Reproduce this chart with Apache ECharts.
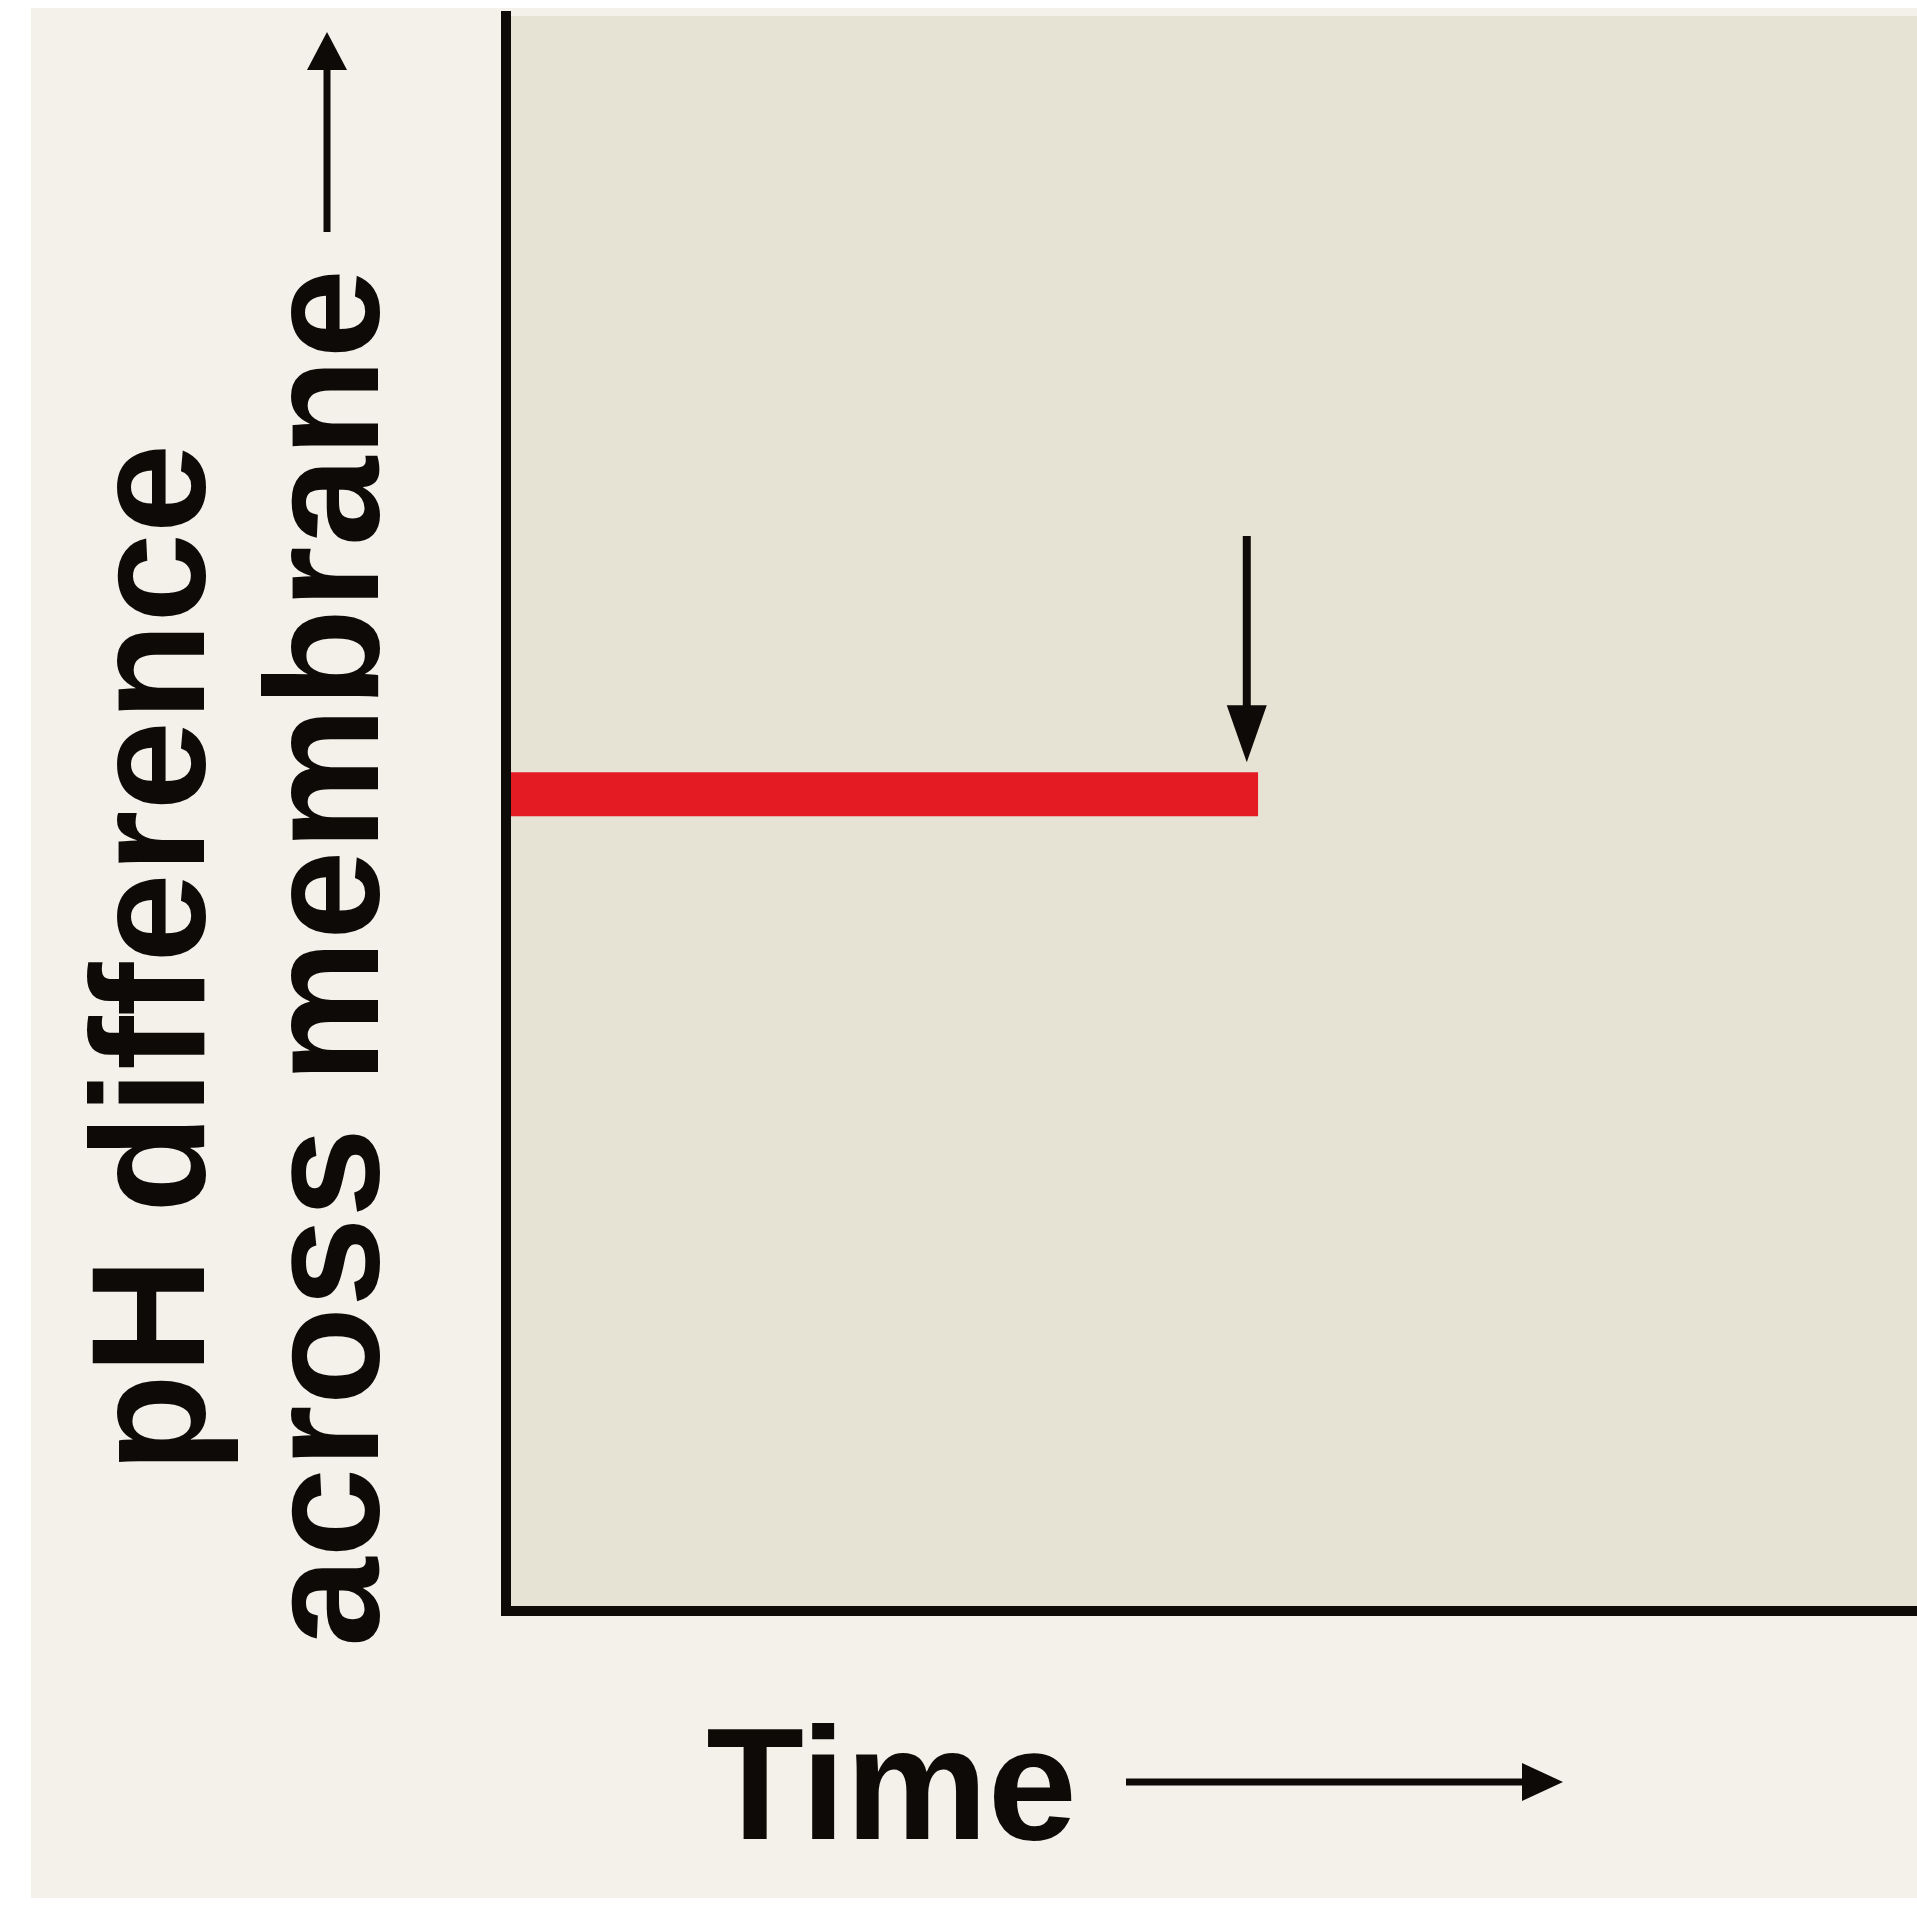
<!doctype html>
<html>
<head>
    <meta charset="utf-8">
    <title>pH difference across membrane</title>
    <script src="https://cdn.jsdelivr.net/npm/echarts@6/dist/echarts.min.js"></script>
    <style>
        body { margin: 0; background: #ffffff; }
        #main { position: absolute; left: 31px; top: 8px; width: 1886px; height: 1890px; }
    </style>
</head>
<body>
<div id="main"></div>
<script type="text/javascript">
// time axis (arbitrary units 0..100), pH difference (arbitrary units 0..100)
var timePoints = [0, 53.3];
var phDiff = [51.2, 51.2];
// down arrow marking the moment of interest
var arrowTime = [52.5, 52.5];
var arrowLevel = [67.4, 55.0];

var axisName = 'pH difference\nacross membrane';
var timeName = 'Time';

var chart = echarts.init(document.getElementById('main'));

var font = 'Liberation Sans, Arial, sans-serif';
var ink = '#0d0a07';

var option = {
    backgroundColor: '#f4f1ea',
    animation: false,
    grid: {
        left: 475, right: 0, top: 8, bottom: 287,
        outerBoundsMode: 'none',
        containLabel: false,
        show: true, backgroundColor: '#e6e3d4', borderWidth: 0
    },
    xAxis: {
        type: 'value', min: 0, max: 100,
        z: 5,
        axisLine: { onZero: false, lineStyle: { color: ink, width: 10, cap: 'square' } },
        axisTick: { show: false }, axisLabel: { show: false }, splitLine: { show: false },
        name: timeName,
        nameLocation: 'middle',
        nameGap: 95,
        nameTextStyle: {
            fontFamily: font, fontWeight: 'bold', fontSize: 160, color: ink,
            lineHeight: 178, padding: [0, 640, 0, 0]
        }
    },
    yAxis: {
        type: 'value', min: 0, max: 100,
        z: 5,
        axisLine: { onZero: false, lineStyle: { color: ink, width: 10, cap: 'square' } },
        axisTick: { show: false }, axisLabel: { show: false }, splitLine: { show: false },
        name: axisName,
        nameLocation: 'middle',
        nameRotate: 90,
        nameGap: 85,
        nameTextStyle: {
            fontFamily: font, fontWeight: 'bold', fontSize: 161, color: ink,
            lineHeight: 174, padding: [0, 289, 0, 0]
        }
    },
    graphic: [
        // arrow beside y-axis title
        { type: 'line', shape: { x1: 296, y1: 224, x2: 296, y2: 60 }, style: { stroke: ink, lineWidth: 7 } },
        { type: 'polygon', shape: { points: [[296, 24], [316, 62], [276, 62]] }, style: { fill: ink } },
        // arrow beside x-axis title
        { type: 'line', shape: { x1: 1095, y1: 1774, x2: 1493, y2: 1774 }, style: { stroke: ink, lineWidth: 7 } },
        { type: 'polygon', shape: { points: [[1532, 1774], [1491, 1755], [1491, 1793]] }, style: { fill: ink } }
    ],
    series: [
        {
            type: 'line',
            data: timePoints.map(function (t, i) { return [t, phDiff[i]]; }),
            symbol: 'none',
            lineStyle: { color: '#e41b23', width: 44, cap: 'butt' },
            z: 2
        },
        {
            type: 'line',
            data: [
                { value: [arrowTime[0], arrowLevel[0]], symbol: 'none' },
                { value: [arrowTime[1], arrowLevel[1]], symbol: 'triangle', symbolSize: [40, 57], symbolRotate: 180 }
            ],
            showSymbol: true,
            itemStyle: { color: ink },
            lineStyle: { color: ink, width: 8 },
            z: 3
        }
    ]
};
chart.setOption(option);
</script>
</body>
</html>
